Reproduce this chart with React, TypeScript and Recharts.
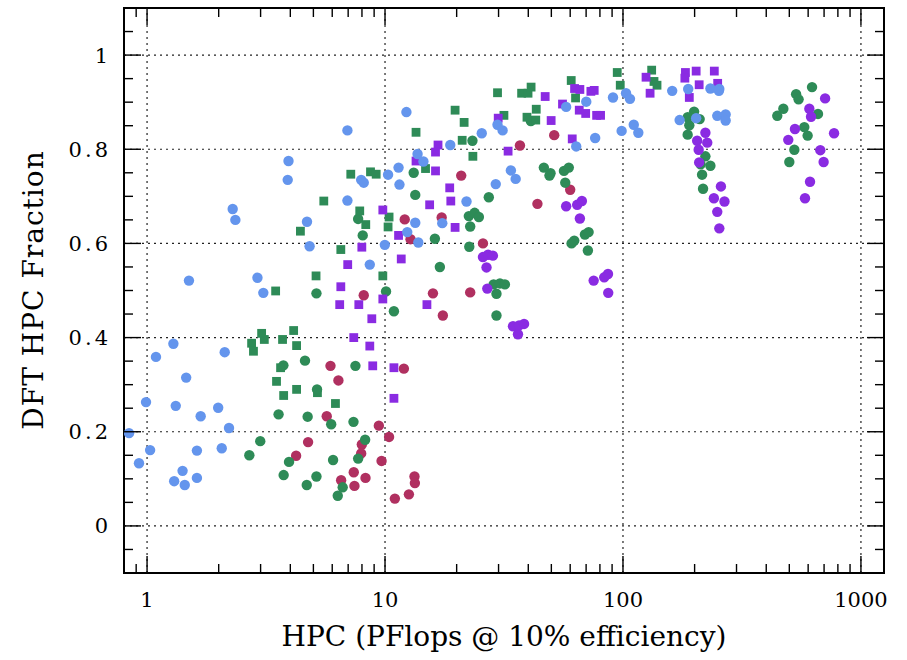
import React from 'react';
import { ScatterChart, Scatter, XAxis, YAxis, ReferenceLine, ReferenceArea, Label } from 'recharts';

// ---------------- data ----------------
const blueCircles: [number, number][] = [
  [0.99, 0.263], [1.29, 0.387], [1.09, 0.359], [2.12, 0.369], [1.46, 0.315], [1.32, 0.255],
  [1.99, 0.251], [1.68, 0.233], [2.21, 0.208], [0.84, 0.197], [1.03, 0.161], [1.62, 0.16],
  [2.06, 0.165], [0.925, 0.133], [1.41, 0.117], [1.3, 0.095], [1.44, 0.087], [1.62, 0.102],
  [3.93, 0.775], [3.9, 0.735], [2.29, 0.673], [2.35, 0.65], [4.7, 0.646], [4.82, 0.594],
  [1.5, 0.521], [2.91, 0.527], [3.08, 0.495], [12.3, 0.879], [6.95, 0.84], [25.5, 0.834],
  [29.7, 0.852], [18.8, 0.809], [13.7, 0.79], [14.5, 0.774], [11.4, 0.761], [10.3, 0.746],
  [7.94, 0.735], [8.14, 0.729], [11.5, 0.725], [6.95, 0.691], [22.0, 0.689], [29.2, 0.726],
  [13.4, 0.644], [17.4, 0.643], [12.4, 0.624], [13.8, 0.602], [9.98, 0.597], [8.63, 0.555],
  [57.7, 0.89], [70.1, 0.901], [90.8, 0.91], [103, 0.919], [107, 0.907], [161, 0.924],
  [188, 0.928], [31.2, 0.84], [76.4, 0.824], [63.6, 0.806], [98.7, 0.839], [111, 0.852],
  [116, 0.835], [173, 0.862], [33.8, 0.755], [35.4, 0.737], [233, 0.929], [254, 0.928],
  [253, 0.924], [203, 0.866], [249, 0.871], [270, 0.874], [270, 0.861],
];

const greenSquares: [number, number][] = [
  [2.75, 0.388], [3.11, 0.396], [3.71, 0.396], [4.25, 0.383], [2.8, 0.371], [3.64, 0.336],
  [3.5, 0.307], [4.25, 0.29], [3.75, 0.277], [5.2, 0.283], [3.03, 0.409], [4.13, 0.415],
  [4.41, 0.626], [5.13, 0.531], [3.47, 0.499], [19.7, 0.883], [21.5, 0.857], [13.5, 0.836],
  [21.1, 0.819], [23.4, 0.785], [14.8, 0.759], [7.18, 0.747], [8.69, 0.752], [9.18, 0.747],
  [5.53, 0.69], [7.83, 0.669], [8.3, 0.64], [10.4, 0.656], [10.3, 0.635], [29.7, 0.92],
  [6.52, 0.587], [9.79, 0.531], [6.19, 0.26], [37.5, 0.919], [39.9, 0.919], [41.1, 0.932],
  [60.6, 0.946], [63.2, 0.909], [43.2, 0.885], [31.6, 0.872], [39.5, 0.868], [43.0, 0.862],
  [94.6, 0.963], [97.4, 0.936], [132, 0.968], [135, 0.944], [139, 0.936],
];

const greenCircles: [number, number][] = [
  [4.61, 0.351], [3.74, 0.341], [3.57, 0.237], [4.73, 0.232], [2.99, 0.18], [2.69, 0.15],
  [3.95, 0.136], [3.75, 0.108], [4.69, 0.087], [5.15, 0.105], [5.18, 0.29], [5.15, 0.494],
  [23.3, 0.818], [13.2, 0.75], [13.4, 0.703], [27.3, 0.698], [7.71, 0.652], [8.06, 0.617],
  [16.2, 0.61], [22.5, 0.658], [23.8, 0.665], [24.8, 0.656], [22.8, 0.636], [22.6, 0.593],
  [17.0, 0.55], [10.1, 0.498], [10.9, 0.456], [7.51, 0.34], [28.6, 0.513], [29.4, 0.493],
  [29.4, 0.447], [5.94, 0.216], [7.37, 0.221], [8.25, 0.183], [7.71, 0.143], [6.05, 0.14],
  [6.64, 0.082], [6.33, 0.064], [41.0, 0.86], [46.5, 0.761], [49.6, 0.749], [49.1, 0.744],
  [56.5, 0.754], [59.2, 0.761], [57.2, 0.729], [62.4, 0.606], [60.8, 0.6], [69.2, 0.619],
  [71.7, 0.624], [71.2, 0.585], [30.4, 0.515], [31.9, 0.513], [199, 0.88], [187, 0.868],
  [210, 0.864], [190, 0.851], [187, 0.831], [222, 0.785], [212, 0.768], [233, 0.765],
  [215, 0.746], [217, 0.716], [623, 0.932], [534, 0.917], [547, 0.906], [472, 0.886],
  [445, 0.871], [660, 0.875], [578, 0.847], [597, 0.829], [525, 0.799], [500, 0.773],
];

const purpleSquares: [number, number][] = [
  [16.7, 0.809], [16.3, 0.794], [13.5, 0.775], [16.3, 0.754], [18.7, 0.718], [18.9, 0.69],
  [15.4, 0.682], [9.79, 0.671], [19.7, 0.634], [11.4, 0.617], [7.99, 0.592], [29.9, 0.866],
  [11.7, 0.567], [6.97, 0.555], [6.52, 0.508], [9.79, 0.482], [6.45, 0.47], [7.76, 0.47],
  [15.0, 0.47], [8.8, 0.44], [7.39, 0.4], [8.63, 0.382], [8.88, 0.34], [10.9, 0.336],
  [10.9, 0.271], [47.1, 0.912], [55.7, 0.896], [62.6, 0.929], [65.9, 0.927], [73.3, 0.923],
  [75.7, 0.925], [65.5, 0.883], [69.7, 0.876], [77.5, 0.872], [80.5, 0.872], [49.9, 0.861],
  [61.2, 0.822], [32.9, 0.796], [125, 0.953], [130, 0.919], [183, 0.963], [190, 0.91],
  [182, 0.951], [203, 0.966], [242, 0.966], [209, 0.937], [250, 0.94],
];

const purpleCircles: [number, number][] = [
  [25.8, 0.571], [27.1, 0.576], [28.4, 0.574], [26.7, 0.549], [26.9, 0.504], [57.7, 0.679],
  [64.2, 0.682], [67.2, 0.69], [65.9, 0.653], [75.3, 0.521], [83.4, 0.528], [86.5, 0.535],
  [86.7, 0.495], [34.5, 0.424], [36.6, 0.426], [38.4, 0.429], [36.2, 0.407], [222, 0.835],
  [205, 0.818], [226, 0.814], [208, 0.799], [209, 0.772], [258, 0.721], [241, 0.696],
  [267, 0.689], [249, 0.667], [254, 0.632], [707, 0.908], [607, 0.886], [617, 0.869],
  [528, 0.843], [495, 0.82], [771, 0.834], [675, 0.798], [697, 0.773], [611, 0.731],
  [582, 0.696],
];

const crimsonCircles: [number, number][] = [
  [4.75, 0.178], [4.23, 0.149], [20.9, 0.744], [12.1, 0.651], [17.3, 0.655], [12.8, 0.609],
  [25.8, 0.6], [8.14, 0.49], [15.9, 0.494], [22.8, 0.496], [17.5, 0.447], [5.9, 0.34],
  [12.0, 0.334], [6.37, 0.309], [5.69, 0.233], [9.42, 0.213], [10.4, 0.189], [7.99, 0.173],
  [7.94, 0.154], [9.67, 0.138], [7.39, 0.114], [6.54, 0.097], [8.28, 0.102], [7.44, 0.085],
  [13.3, 0.105], [13.35, 0.091], [12.6, 0.067], [11.0, 0.058], [51.4, 0.83], [36.9, 0.808],
  [60.0, 0.714], [43.7, 0.684],
];

const X_DOMAIN: [number, number] = [0.8, 1250];
const Y_DOMAIN: [number, number] = [-0.1, 1.1];
const X_MAJOR = [1, 10, 100, 1000];
const X_MINOR = [0.9, 2, 3, 4, 5, 6, 7, 8, 9, 20, 30, 40, 50, 60, 70, 80, 90, 200, 300, 400, 500, 600, 700, 800, 900];
const Y_MAJOR = [0, 0.2, 0.4, 0.6, 0.8, 1];
const Y_MINOR = [-0.05, 0.05, 0.1, 0.15, 0.25, 0.3, 0.35, 0.45, 0.5, 0.55, 0.65, 0.7, 0.75, 0.85, 0.9, 0.95, 1.05];
const X_LABEL = 'HPC (PFlops @ 10% efficiency)';
const Y_LABEL = 'DFT HPC Fraction';

// ---------------- layout / style ----------------
const W = 907;
const H = 660;
const P = { left: 124, right: 884, top: 8, bottom: 573 };
const MAJ = 17;
const MIN = 9;
const FONT = '"DejaVu Serif", serif';
const C_BLUE = '#6495ED';
const C_GREEN = '#2E8B57';
const C_PURPLE = '#8A2BE2';
const C_CRIMSON = '#B03060';

const toPts = (a: [number, number][]) => a.map(([x, y]) => ({ x, y }));

const circle = (color: string) => (p: any) => (
  <circle cx={p.cx} cy={p.cy} r={5.2} fill={color} />
);
const square = (color: string) => (p: any) => (
  <rect x={p.cx - 4.4} y={p.cy - 4.4} width={8.8} height={8.8} fill={color} />
);

const XTick = (props: any) => {
  const { x, payload } = props;
  const v = payload.value;
  const major = X_MAJOR.includes(v);
  const len = major ? MAJ : MIN;
  return (
    <g>
      <line x1={x} x2={x} y1={P.bottom} y2={P.bottom - len} stroke="#000" strokeWidth={1.4} />
      <line x1={x} x2={x} y1={P.top} y2={P.top + len} stroke="#000" strokeWidth={1.4} />
      {major && (
        <text x={x} y={P.bottom + 34} textAnchor="middle" fontFamily={FONT} fontSize={21} fill="#000">
          {String(v)}
        </text>
      )}
    </g>
  );
};

const YTick = (props: any) => {
  const { y, payload } = props;
  const v = payload.value;
  const major = Y_MAJOR.some((m) => Math.abs(m - v) < 1e-9);
  const len = major ? MAJ : MIN;
  return (
    <g>
      <line x1={P.left} x2={P.left + len} y1={y} y2={y} stroke="#000" strokeWidth={1.4} />
      <line x1={P.right} x2={P.right - len} y1={y} y2={y} stroke="#000" strokeWidth={1.4} />
      {major && (
        <text x={P.left - 16 + 3} y={y + 7.5} textAnchor="end" fontFamily={FONT} fontSize={21} letterSpacing={3} fill="#000">
          {String(v)}
        </text>
      )}
    </g>
  );
};

export default function App() {
  const xTicks = [...X_MINOR, ...X_MAJOR].sort((a, b) => a - b);
  const yTicks = [...Y_MINOR, ...Y_MAJOR].sort((a, b) => a - b);
  return (
    <div style={{ position: 'absolute', left: 0, top: 0, width: W, height: H, background: '#fff' }}>
      <ScatterChart
        width={W}
        height={H}
        margin={{ top: P.top, right: W - P.right, bottom: 0, left: 0 }}
      >
        <XAxis
          xAxisId="b"
          dataKey="x"
          type="number"
          scale="log"
          domain={X_DOMAIN}
          allowDataOverflow
          ticks={xTicks}
          interval={0}
          height={H - P.bottom}
          axisLine={false}
          tickLine={false}
          tickSize={0}
          tickMargin={0}
          tick={<XTick />}
        >
          <Label
            content={() => (
              <text x={504} y={646} textAnchor="middle" fontFamily={FONT} fontSize={28} fill="#000">
                {X_LABEL}
              </text>
            )}
          />
        </XAxis>
        <YAxis
          yAxisId="l"
          dataKey="y"
          type="number"
          domain={Y_DOMAIN}
          allowDataOverflow
          ticks={yTicks}
          interval={0}
          width={P.left}
          axisLine={false}
          tickLine={false}
          tickSize={0}
          tickMargin={0}
          tick={<YTick />}
        >
          <Label
            content={() => (
              <text
                x={43}
                y={290}
                transform="rotate(-90, 43, 290)"
                textAnchor="middle"
                fontFamily={FONT}
                fontSize={28}
                letterSpacing={1}
                fill="#000"
              >
                {Y_LABEL}
              </text>
            )}
          />
        </YAxis>
        {X_MAJOR.map((v) => (
          <ReferenceLine key={'gx' + v} xAxisId="b" yAxisId="l" x={v} stroke="#222" strokeDasharray="2 4" strokeWidth={1.2} />
        ))}
        {Y_MAJOR.map((v) => (
          <ReferenceLine key={'gy' + v} xAxisId="b" yAxisId="l" y={v} stroke="#222" strokeDasharray="2 4" strokeWidth={1.2} />
        ))}
        <Scatter xAxisId="b" yAxisId="l" data={toPts(crimsonCircles)} shape={circle(C_CRIMSON)} isAnimationActive={false} />
        <Scatter xAxisId="b" yAxisId="l" data={toPts(greenCircles)} shape={circle(C_GREEN)} isAnimationActive={false} />
        <Scatter xAxisId="b" yAxisId="l" data={toPts(greenSquares)} shape={square(C_GREEN)} isAnimationActive={false} />
        <Scatter xAxisId="b" yAxisId="l" data={toPts(purpleSquares)} shape={square(C_PURPLE)} isAnimationActive={false} />
        <Scatter xAxisId="b" yAxisId="l" data={toPts(purpleCircles)} shape={circle(C_PURPLE)} isAnimationActive={false} />
        <Scatter xAxisId="b" yAxisId="l" data={toPts(blueCircles)} shape={circle(C_BLUE)} isAnimationActive={false} />
        <ReferenceArea
          xAxisId="b"
          yAxisId="l"
          x1={X_DOMAIN[0]}
          x2={X_DOMAIN[1]}
          y1={Y_DOMAIN[0]}
          y2={Y_DOMAIN[1]}
          fill="none"
          fillOpacity={0}
          stroke="#000"
          strokeWidth={2}
          ifOverflow="visible"
        />
      </ScatterChart>
    </div>
  );
}
